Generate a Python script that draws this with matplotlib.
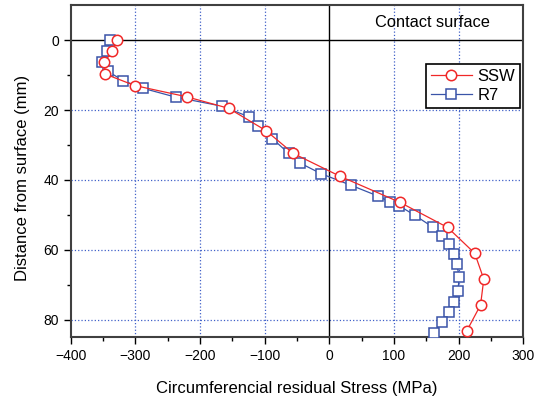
import matplotlib
matplotlib.use("Agg")
import matplotlib.pyplot as plt
import numpy as np

plt.rcParams['font.family'] = ['Liberation Sans', 'DejaVu Sans']

# SSW data (stress MPa, depth mm)
ssw_stress = [-329, -336, -348, -347, -301, -221, -156, -98, -56, 17, 109, 183, 225, 239, 234, 213]
ssw_depth = [0, 3.1, 6.4, 9.7, 13.0, 16.2, 19.5, 25.9, 32.4, 39.0, 46.4, 53.6, 61.0, 68.4, 75.8, 83.1]

# R7 data
r7_stress = [-339, -344, -352, -343, -319, -288, -238, -166, -125, -111, -88, -63, -45, -13,
             33, 75, 94, 108, 132, 160, 175, 185, 193, 197, 201, 199, 193, 185, 174, 162, 148]
r7_depth = [0, 3.1, 6.2, 8.9, 11.6, 13.8, 16.3, 18.9, 21.9, 24.6, 28.2, 32.4, 35.2, 38.2,
            41.5, 44.6, 46.3, 47.4, 50.1, 53.5, 56.0, 58.4, 61.1, 64.0, 67.7, 71.7, 75.0, 77.9, 80.8, 83.7, 87.5]

red = '#f02828'
blue = '#3a54a8'

fig = plt.figure(figsize=(5.45, 3.99), dpi=100)
ax = fig.add_axes([0.130, 0.155, 0.830, 0.832])

ax.plot(ssw_stress, ssw_depth, '-o', color=red, lw=0.9, ms=7.5, mfc='white', mec=red, mew=1.1,
        label='SSW', zorder=4)
ax.plot(r7_stress, r7_depth, '-s', color=blue, lw=0.9, ms=6.5, mfc='white', mec=blue, mew=1.1,
        label='R7', zorder=3)

ax.set_xlim(-400, 300)
ax.set_ylim(85, -10)
ax.set_xticks(np.arange(-400, 301, 100))
ax.set_xticks(np.arange(-350, 300, 100), minor=True)
ax.set_yticks(np.arange(0, 81, 20))
ax.set_yticks(np.arange(10, 81, 20), minor=True)

for v in [-300, -200, -100, 100, 200]:
    ax.axvline(v, color='#4060c8', ls=':', lw=0.9, zorder=1)
for v in [20, 40, 60, 80]:
    ax.axhline(v, color='#4060c8', ls=':', lw=0.9, zorder=1)
ax.axvline(0, color='black', lw=1.0, zorder=2)
ax.axhline(0, color='black', lw=1.0, zorder=2)

ax.tick_params(which='both', direction='out', top=False, right=False, labelsize=10)
ax.tick_params(which='major', length=5, width=1)
ax.tick_params(which='minor', length=3, width=1)
for s in ax.spines.values():
    s.set_linewidth(1.5)
    s.set_color('#404040')

ax.text(160, -5, 'Contact surface', ha='center', va='center', fontsize=11.8)

ax.set_xlabel('Circumferencial residual Stress (MPa)', fontsize=12, labelpad=13)
ax.set_ylabel('Distance from surface (mm)', fontsize=12, labelpad=4)
ax.yaxis.set_label_coords(-0.09, 0.48)

leg = ax.legend(loc='upper right', bbox_to_anchor=(0.993, 0.822), borderaxespad=0, fontsize=12,
                fancybox=False, framealpha=1, edgecolor='black', handlelength=2.5, borderpad=0.3,
                labelspacing=0.2, handletextpad=0.3)
leg.get_frame().set_linewidth(1.2)

fig.savefig('out.png', dpi=100)
